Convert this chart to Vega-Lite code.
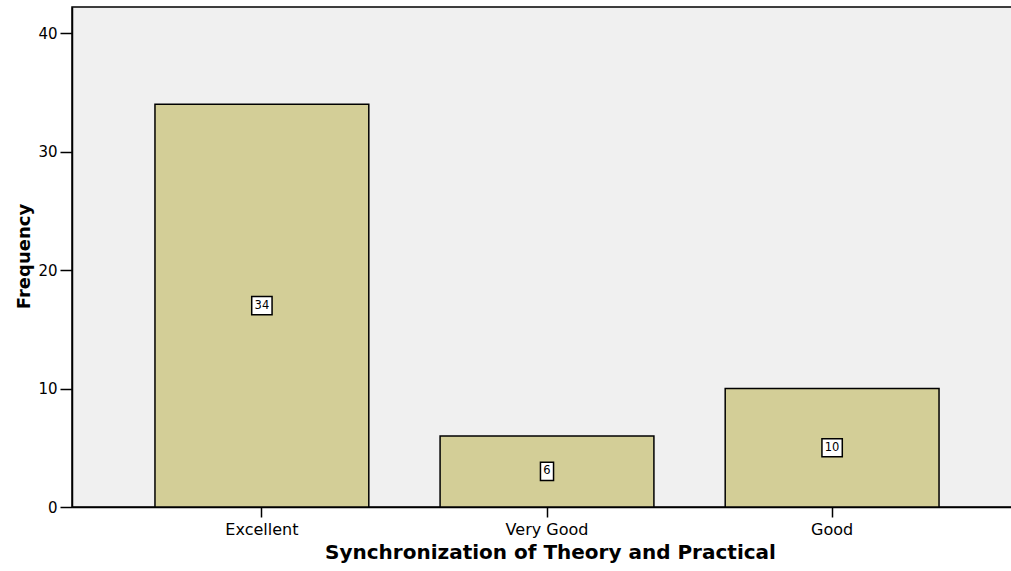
{
  "$schema": "https://vega.github.io/schema/vega-lite/v6.json",
  "autosize": {"type": "none"},
  "padding": {"left": 72, "top": 7, "right": 0, "bottom": 64},
  "width": 940,
  "height": 500,
  "background": "#ffffff",
  "config": {
    "view": {"fill": "#F0F0F0", "stroke": "#000000", "strokeWidth": 1.5},
    "axis": {"domainColor": "#000000", "domainWidth": 1.5, "tickColor": "#000000", "tickWidth": 1.5, "labelColor": "#000000", "titleColor": "#000000", "grid": false}
  },
  "data": {
    "values": [
      {"category": "Excellent", "frequency": 34},
      {"category": "Very Good", "frequency": 6},
      {"category": "Good", "frequency": 10}
    ]
  },
  "encoding": {
    "x": {
      "field": "category",
      "type": "nominal",
      "sort": ["Excellent", "Very Good", "Good"],
      "scale": {"range": [0, 950], "paddingInner": 0.25, "paddingOuter": 0.291},
      "axis": {
        "title": "Synchronization of Theory and Practical",
        "labelAngle": 0,
        "labelFont": "DejaVu Sans",
        "labelFontSize": 16,
        "labelPadding": 4,
        "tickSize": 10,
        "titleFont": "DejaVu Sans",
        "titleFontWeight": "bold",
        "titleFontSize": 20,
        "titleX": 478,
        "titleY": 51,
        "titleBaseline": "alphabetic",
        "titleAlign": "center"
      }
    }
  },
  "layer": [
    {
      "mark": {"type": "bar", "fill": "#D3CE97", "stroke": "#000000", "strokeWidth": 1.5},
      "encoding": {
        "y": {
          "field": "frequency",
          "type": "quantitative",
          "scale": {"domain": [0, 42.2], "nice": false, "zero": true},
          "axis": {
            "title": "Frequency",
            "values": [0, 10, 20, 30, 40],
            "labelFont": "DejaVu Sans",
            "labelFontSize": 15,
            "labelPadding": 3,
            "tickSize": 12,
            "titleFont": "DejaVu Sans",
            "titleFontWeight": "bold",
            "titleFontSize": 18,
            "titleX": -43,
            "titleY": 249,
            "titleAngle": -90,
            "titleAlign": "center",
            "titleBaseline": "alphabetic"
          }
        }
      }
    },
    {
      "transform": [{"calculate": "datum.frequency / 2", "as": "mid"}],
      "mark": {"type": "point", "filled": true, "fill": "#ffffff", "stroke": "#000000", "strokeWidth": 1.5, "opacity": 1, "size": 330},
      "encoding": {
        "y": {"field": "mid", "type": "quantitative"},
        "shape": {
          "condition": {"test": "datum.frequency < 10", "value": "M-0.72,-1L0.72,-1L0.72,1L-0.72,1Z"},
          "value": "M-1.12,-1L1.12,-1L1.12,1L-1.12,1Z"
        }
      }
    },
    {
      "transform": [{"calculate": "datum.frequency / 2", "as": "mid"}],
      "mark": {"type": "text", "font": "DejaVu Sans", "fontSize": 11.5, "color": "#000000", "baseline": "middle", "align": "center"},
      "encoding": {
        "y": {"field": "mid", "type": "quantitative"},
        "text": {"field": "frequency", "type": "quantitative"}
      }
    }
  ]
}
